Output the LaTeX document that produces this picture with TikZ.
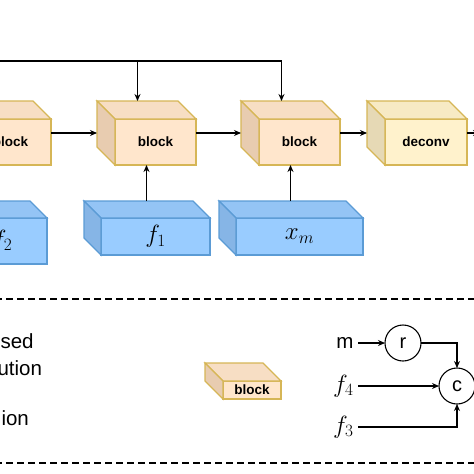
\documentclass[tikz,border=0pt]{standalone}
\usepackage{amsmath}
\usepackage{fontspec}
\setsansfont{Liberation Sans}
\usetikzlibrary{arrows.meta,calc,positioning}

\definecolor{blkfront}{HTML}{FFE6CC}
\definecolor{blktop}{HTML}{F7DEC4}
\definecolor{blkside}{HTML}{E8CCB0}
\definecolor{blkline}{HTML}{D6B656}
\definecolor{dcvfront}{HTML}{FFF2CC}
\definecolor{dcvtop}{HTML}{F7EAC4}
\definecolor{dcvside}{HTML}{E6D9B5}
\definecolor{featfront}{HTML}{99CCFF}
\definecolor{feattop}{HTML}{94C4F5}
\definecolor{featside}{HTML}{86B5E6}
\definecolor{featline}{HTML}{5B9BD5}

% depth faces (top + side) behind a front face node
\newcommand{\cubefaces}[5]{%
  \filldraw[draw=#3,fill=#5] (#1.north west) -- ++(-#2,-#2) -- ($(#1.north east)+(-#2,-#2)$) -- (#1.north east) -- cycle;
  \filldraw[draw=#3,fill=#4] (#1.north west) -- ++(-#2,-#2) -- ($(#1.south west)+(-#2,-#2)$) -- (#1.south west) -- cycle;
}

\begin{document}
\begin{tikzpicture}[x=1pt,y=-1pt,line width=1.1pt,>={Stealth[length=7pt,width=6pt]},
    blk/.style={draw=blkline,fill=blkfront,minimum width=81pt,minimum height=46pt,inner sep=0pt,outer sep=0pt,
        font=\sffamily\bfseries\fontsize{13.5}{16}\selectfont},
    dcv/.style={blk,fill=dcvfront,minimum width=82pt},
    feat/.style={draw=featline,fill=featfront,minimum height=37pt,inner sep=0pt,outer sep=0pt,
        font=\fontsize{25}{30}\selectfont},
    op/.style={circle,draw,minimum size=36pt,inner sep=0pt,outer sep=0pt,font=\sffamily\fontsize{20}{24}\selectfont},
    lbl/.style={inner sep=0pt,font=\sffamily\fontsize{20.5}{24}\selectfont},
    sym/.style={inner xsep=4pt,inner ysep=0pt,font=\fontsize{25}{30}\selectfont}]
    \useasboundingbox (0,0) rectangle (474,474);

    % upper chain
    \node[blk] (B1) at (10.5,142) {block};
    \node[blk] (B2) at (155.5,142) {block};
    \node[blk] (B3) at (299.5,142) {block};
    \node[dcv] (DC) at (426,142) {deconv};
    \cubefaces{B1}{18}{blkline}{blkside}{blktop}
    \cubefaces{B2}{18}{blkline}{blkside}{blktop}
    \cubefaces{B3}{18}{blkline}{blkside}{blktop}
    \cubefaces{DC}{18}{blkline}{dcvside}{dcvtop}

    \node[feat,minimum width=90pt,minimum height=46pt] (F2) at (2,241) {$f_2$};
    \node[feat,minimum width=109pt] (F1) at (155.5,236.5) {$f_1$};
    \node[feat,minimum width=127pt] (XM) at (299.5,236.5) {$x_m$};
    \cubefaces{F2}{17}{featline}{featside}{feattop}
    \cubefaces{F1}{17}{featline}{featside}{feattop}
    \cubefaces{XM}{17}{featline}{featside}{feattop}

    \coordinate (S) at (-5,61);
    \coordinate (E) at (480,133);
    \coordinate (B2in) at ([xshift=-18pt,yshift=18pt]B2.north);
    \coordinate (B3in) at ([xshift=-18pt,yshift=18pt]B3.north);
    \draw[->] (S) -| (B3in);
    \draw[->] (B2in |- S) -- (B2in);
    \draw[->] ([yshift=9pt]B1.east) -- ([xshift=-18pt,yshift=9pt]B2.west);
    \draw[->] ([yshift=9pt]B2.east) -- ([xshift=-18pt,yshift=9pt]B3.west);
    \draw[->] ([yshift=9pt]B3.east) -- ([xshift=-18pt,yshift=9pt]DC.west);
    \draw[->] ([yshift=9pt]DC.east) -- (E);
    \draw[->] ([xshift=-9pt,yshift=17pt]F1.north) -- ([xshift=-9pt]B2.south);
    \draw[->] ([xshift=-9pt,yshift=17pt]XM.north) -- ([xshift=-9pt]B3.south);

    % legend
    \draw[dash pattern=on 7pt off 4pt] (-5,299) -- (480,299);
    \draw[dash pattern=on 7pt off 4pt] (-5,463) -- (480,463);

    \node[lbl,anchor=base west] (T1) at (0,348) {sed};
    \node[lbl,anchor=base west] (T2) at (-3,375) {ution};
    \node[lbl,anchor=base west] (T3) at (1,425) {ion};

    \node[blk,minimum width=58pt,minimum height=18pt] (LB) at (252,390) {block};
    \cubefaces{LB}{18}{blkline}{blkside}{blktop}

    \node[op] (R) at (403,343) {r};
    \node[op] (C) at (457,386) {c};
    \node[lbl,inner xsep=4pt,anchor=east] (M) at (358,343) {m};
    \node[sym,anchor=east] (F4) at (358,386) {$f_4$};
    \node[sym,anchor=east] (F3) at (358,427) {$f_3$};
    \draw[->] (M) -- (R);
    \draw[->] (R) -| (C);
    \draw[->] (F4) -- (C);
    \draw[->] (F3) -| (C);
\end{tikzpicture}
\end{document}
